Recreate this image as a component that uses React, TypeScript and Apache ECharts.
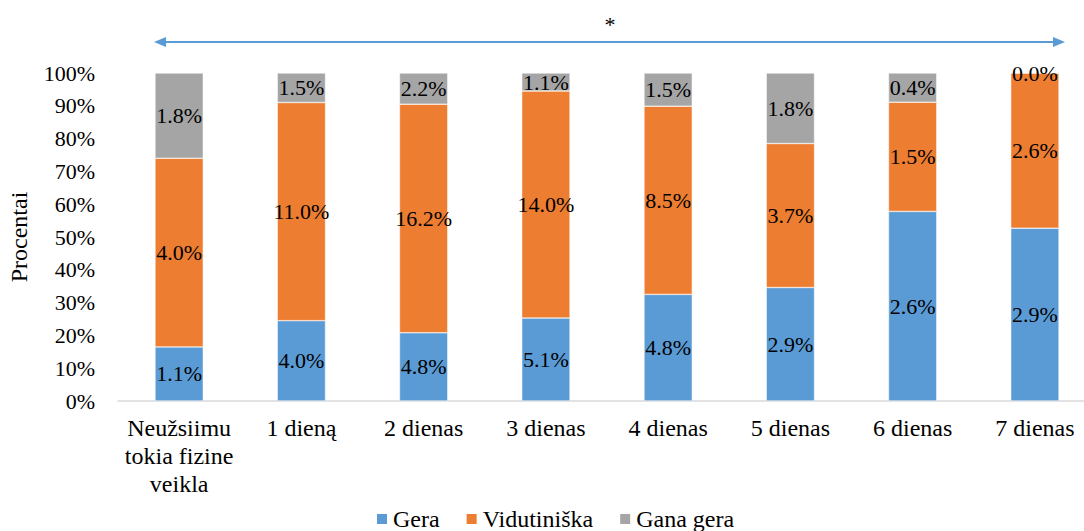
import React, { useEffect, useRef } from "react";
import * as echarts from "echarts";

const categories = ["Neužsiimu\ntokia fizine\nveikla", "1 dieną", "2 dienas", "3 dienas", "4 dienas", "5 dienas", "6 dienas", "7 dienas"];
const seriesNames = ["Gera", "Vidutiniška", "Gana gera"];
// bar heights (% within category)
const gera = [16.5, 24.5, 20.8, 25.3, 32.5, 34.6, 57.8, 52.7];
const vidutiniska = [57.5, 66.5, 69.7, 69.2, 57.4, 43.9, 33.3, 47.3];
const ganaGera = [26.0, 9.0, 9.5, 5.5, 10.1, 21.5, 8.9, 0.0];
// labels printed on the bars
const geraLabels = ["1.1%", "4.0%", "4.8%", "5.1%", "4.8%", "2.9%", "2.6%", "2.9%"];
const vidutiniskaLabels = ["4.0%", "11.0%", "16.2%", "14.0%", "8.5%", "3.7%", "1.5%", "2.6%"];
const ganaGeraLabels = ["1.8%", "1.5%", "2.2%", "1.1%", "1.5%", "1.8%", "0.4%", "0.0%"];
const colors = ["#5B9BD5", "#ED7D31", "#A5A5A5"];

const FONT = "Liberation Serif";
const FS = 24;
const FS_SMALL = 22;

export default function App() {
  const ref = useRef<HTMLDivElement>(null);
  useEffect(() => {
    if (!ref.current) return;
    const chart = echarts.init(ref.current, null, { renderer: "svg" });
    const mk = (name: string, data: number[], labels: string[], color: string) => ({
      name,
      type: "bar",
      stack: "total",
      barWidth: "39.5%",
      data,
      itemStyle: { color, borderColor: "#ffffff", borderWidth: 0.5 },
      label: {
        show: true,
        position: "inside",
        formatter: (p: any) => labels[p.dataIndex],
        color: "#000",
        fontFamily: FONT,
        fontSize: FS_SMALL,
      },
    });
    chart.setOption({
      animation: false,
      textStyle: { fontFamily: FONT, fontSize: FS },
      grid: { left: 118, top: 73, width: 978, height: 328, containLabel: false, outerBoundsMode: "none" },
      legend: {
        data: seriesNames,
        left: 375,
        top: 507,
        padding: 0,
        itemWidth: 12,
        itemHeight: 12,
        itemGap: 25,
        icon: "rect",
        textStyle: { fontFamily: FONT, fontSize: FS, color: "#000" },
      },
      xAxis: {
        type: "category",
        data: categories,
        axisLine: { lineStyle: { color: "#D9D9D9", width: 1.5 } },
        axisTick: { show: false },
        axisLabel: { color: "#000", fontFamily: FONT, fontSize: FS, lineHeight: 28, margin: 13, interval: 0 },
      },
      yAxis: {
        type: "value",
        min: 0,
        max: 100,
        interval: 10,
        name: "Procentai",
        nameLocation: "middle",
        nameRotate: 90,
        nameGap: 87,
        nameTextStyle: { color: "#000", fontFamily: FONT, fontSize: FS },
        axisLine: { show: false },
        axisTick: { show: false },
        splitLine: { show: false },
        axisLabel: { color: "#000", fontFamily: FONT, fontSize: FS_SMALL, margin: 23, formatter: "{value}%" },
      },
      graphic: [
        { type: "line", shape: { x1: 164, y1: 42, x2: 1055, y2: 42 }, style: { stroke: "#5B9BD5", lineWidth: 2 } },
        { type: "polygon", shape: { points: [[154, 42], [166, 37], [166, 47]] }, style: { fill: "#5B9BD5" } },
        { type: "polygon", shape: { points: [[1065, 42], [1053, 37], [1053, 47]] }, style: { fill: "#5B9BD5" } },
        { type: "text", x: 610, y: 24, style: { text: "*", fontFamily: FONT, fontSize: FS_SMALL, fill: "#000", align: "center", verticalAlign: "middle" } },
      ],
      series: [
        mk(seriesNames[0], gera, geraLabels, colors[0]),
        mk(seriesNames[1], vidutiniska, vidutiniskaLabels, colors[1]),
        mk(seriesNames[2], ganaGera, ganaGeraLabels, colors[2]),
      ],
    });
    return () => chart.dispose();
  }, []);
  return (
    <div style={{ position: "absolute", left: 0, top: 0, width: 1084, height: 531, overflow: "hidden" }}>
      <div ref={ref} style={{ position: "absolute", left: 0, top: 0, width: 1100, height: 531 }} />
    </div>
  );
}
